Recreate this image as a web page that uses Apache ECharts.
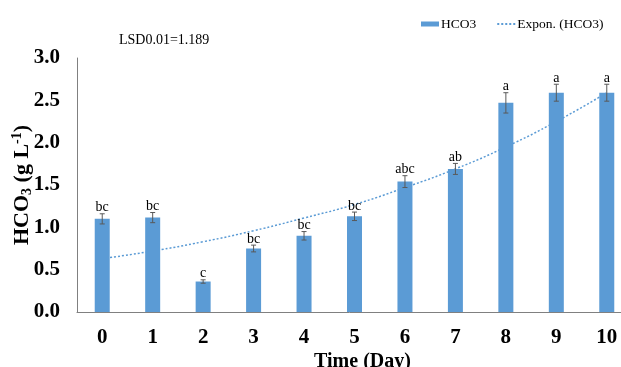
<!DOCTYPE html>
<html>
<head>
<meta charset="utf-8">
<script src="https://cdn.jsdelivr.net/npm/echarts@6/dist/echarts.min.js"></script>
<style>html,body{margin:0;padding:0;background:#fff;}#c{width:621px;height:367px;}</style>
</head>
<body>
<div id="c"></div>
<script>
const days = ['0','1','2','3','4','5','6','7','8','9','10'];
const hco3 = [1.10, 1.115, 0.36, 0.75, 0.90, 1.13, 1.54, 1.69, 2.47, 2.59, 2.59];
const errors = [0.06, 0.06, 0.02, 0.04, 0.05, 0.05, 0.07, 0.065, 0.12, 0.10, 0.10];
const letters = ['bc','bc','c','bc','bc','bc','abc','ab','a','a','a'];
const trend = [0.63, 0.72, 0.83, 0.96, 1.11, 1.27, 1.47, 1.69, 1.95, 2.25, 2.59];

const SERIF = '"Liberation Serif","Times New Roman",serif';
const chart = echarts.init(document.getElementById('c'));
const errData = hco3.map((v, i) => [i, v, errors[i]]);

chart.setOption({
  animation: false,
  backgroundColor: '#fff',
  grid: { left: 77, top: 58, width: 555, height: 254, containLabel: false, outerBoundsMode: 'none' },
  legend: {
    left: 416, top: 12, itemGap: 20, itemWidth: 18, itemHeight: 5,
    textStyle: { fontFamily: SERIF, fontSize: 13.5, color: '#000', padding: [1,0,0,-3] },
    data: [
      { name: 'HCO3', icon: 'rect' },
      { name: 'Expon. (HCO3)', itemStyle: { opacity: 0 } }
    ]
  },
  graphic: [{
    type: 'text', left: 119, top: 33,
    style: { text: 'LSD0.01=1.189', font: '14px ' + SERIF, fill: '#000' }
  }],
  xAxis: {
    type: 'category', data: days,
    axisLine: { lineStyle: { color: '#808080', width: 1 } },
    axisTick: { show: false },
    axisLabel: { fontFamily: SERIF, fontWeight: 'bold', fontSize: 21, color: '#000', margin: 15 },
    name: 'Time (Day)', nameLocation: 'middle', nameGap: 40, nameMoveOverlap: false,
    nameTextStyle: { fontFamily: SERIF, fontWeight: 'bold', fontSize: 20, color: '#000', padding: [0,0,0,16] }
  },
  yAxis: {
    type: 'value', min: 0, max: 3, interval: 0.5,
    axisLine: { show: true, lineStyle: { color: '#808080', width: 1 } },
    axisTick: { show: false },
    splitLine: { show: false },
    axisLabel: { fontFamily: SERIF, fontWeight: 'bold', fontSize: 21, color: '#000', margin: 17,
      formatter: v => v.toFixed(1) },
    name: '{m|HCO}{s|3}{m| (g L}{p|-1}{m|)}', nameLocation: 'middle', nameGap: 43, nameRotate: 90,
    nameMoveOverlap: false,
    nameTextStyle: {
      rich: {
        m: { fontFamily: SERIF, fontWeight: 'bold', fontSize: 22, color: '#000' },
        s: { fontFamily: SERIF, fontWeight: 'bold', fontSize: 14, color: '#000', verticalAlign: 'bottom', padding: [10,0,0,0] },
        p: { fontFamily: SERIF, fontWeight: 'bold', fontSize: 14, color: '#000', verticalAlign: 'top', padding: [0,0,8,0] }
      }
    }
  },
  series: [
    {
      name: 'Expon. (HCO3)', type: 'line', data: trend, smooth: true, symbol: 'none', z: 1,
      lineStyle: { color: '#5B9BD5', width: 1.5, type: [2, 2] },
      itemStyle: { color: '#5B9BD5' }
    },
    {
      name: 'HCO3', type: 'bar', data: hco3, barWidth: 15, z: 2,
      itemStyle: { color: '#5B9BD5' }
    },
    {
      name: 'err', type: 'custom', z: 3, data: errData,
      renderItem: function (params, api) {
        const i = api.value(0), v = api.value(1), e = api.value(2);
        const top = api.coord([i, v + e]);
        const bot = api.coord([i, v - e]);
        const x = top[0], cw = 2.5;
        return {
          type: 'group',
          children: [
            { type: 'line', shape: { x1: x, y1: top[1], x2: x, y2: bot[1] }, style: { stroke: '#595959', lineWidth: 1 } },
            { type: 'line', shape: { x1: x - cw, y1: top[1], x2: x + cw, y2: top[1] }, style: { stroke: '#595959', lineWidth: 1 } },
            { type: 'line', shape: { x1: x - cw, y1: bot[1], x2: x + cw, y2: bot[1] }, style: { stroke: '#595959', lineWidth: 1 } },
            { type: 'text', style: { text: letters[i], x: x, y: top[1] + 1, textAlign: 'center', textVerticalAlign: 'bottom',
              font: '14px ' + SERIF, fill: '#000' } }
          ]
        };
      }
    }
  ]
});
</script>
</body>
</html>
